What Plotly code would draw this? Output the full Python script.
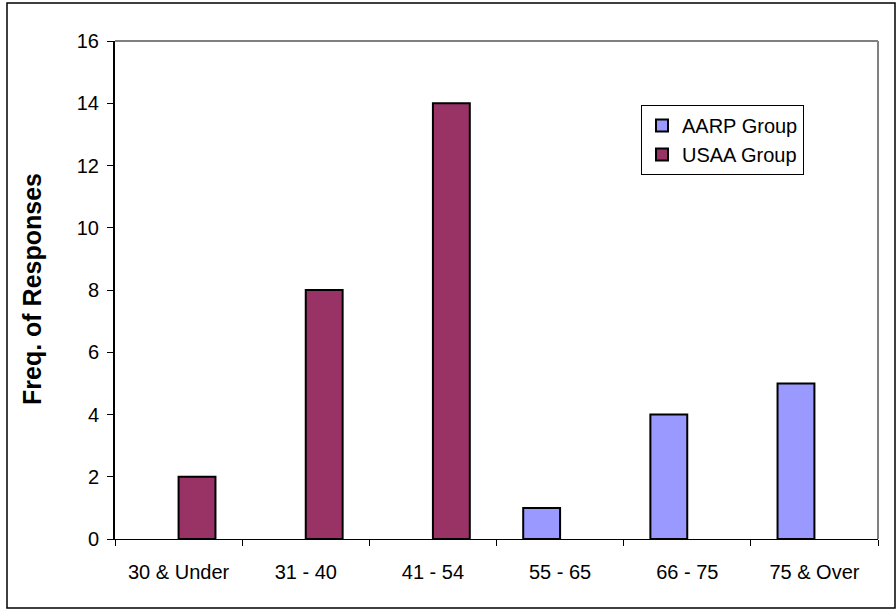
import plotly.graph_objects as go

# Survey responses by age bracket (None = no responses in that bracket)
age_groups = ["30 & Under", "31 - 40", "41 - 54", "55 - 65", "66 - 75", "75 & Over"]
aarp_counts = [None, None, None, 1, 4, 5]
usaa_counts = [2, 8, 14, None, None, None]
y_ticks = [0, 2, 4, 6, 8, 10, 12, 14, 16]

FONT = "Liberation Sans, Arial, sans-serif"

fig = go.Figure()
fig.add_trace(go.Bar(
    name="AARP Group", x=age_groups, y=aarp_counts,
    marker=dict(color="#9999FF", line=dict(color="black", width=2)),
))
fig.add_trace(go.Bar(
    name="USAA Group", x=age_groups, y=usaa_counts,
    marker=dict(color="#993366", line=dict(color="black", width=2)),
))

fig.update_layout(
    width=896, height=611,
    margin=dict(l=115, r=18, t=41, b=72),
    paper_bgcolor="white", plot_bgcolor="white",
    barmode="group", bargap=0.42, bargroupgap=0,
    font=dict(family=FONT, size=20, color="black"),
    showlegend=True,
    legend=dict(
        x=(641 - 115) / 763, y=0.8715, xanchor="left", yanchor="top",
        bordercolor="black", borderwidth=1, bgcolor="white",
        font=dict(family=FONT, size=20),
        traceorder="normal", itemwidth=30,
    ),
    xaxis=dict(
        type="category", tickson="boundaries",
        showline=True, linecolor="black", linewidth=1,
        ticks="outside", ticklen=6, tickcolor="black",
        showgrid=False, tickfont=dict(size=20),
        ticklabelstandoff=15,
    ),
    yaxis=dict(
        range=[0, 16], tickvals=y_ticks,
        showline=True, linecolor="black", linewidth=2,
        ticks="outside", ticklen=6, tickcolor="black",
        showgrid=False, zeroline=False, tickfont=dict(size=20),
        ticklabelstandoff=4,
    ),
    annotations=[dict(
        text="<b>Freq. of Responses</b>", textangle=-90,
        xref="paper", yref="paper", x=(32 - 115) / 763, y=(539 - 289) / 498,
        xanchor="center", yanchor="middle", showarrow=False,
        font=dict(family=FONT, size=25, color="black"),
    )],
    shapes=[
        # gray top and right edges of the plot area
        dict(type="line", xref="paper", yref="paper", x0=0, x1=1, y0=1, y1=1,
             line=dict(color="#808080", width=2)),
        dict(type="line", xref="paper", yref="paper", x0=1, x1=1, y0=0, y1=1,
             line=dict(color="#808080", width=2)),
        # outer chart frame
        dict(type="rect", xref="paper", yref="paper",
             x0=(7 - 115) / 763, x1=(895 - 115) / 763,
             y0=(539 - 608) / 498, y1=(539 - 3) / 498,
             line=dict(color="black", width=1.5), layer="below"),
    ],
)

fig.write_html("out.html")
